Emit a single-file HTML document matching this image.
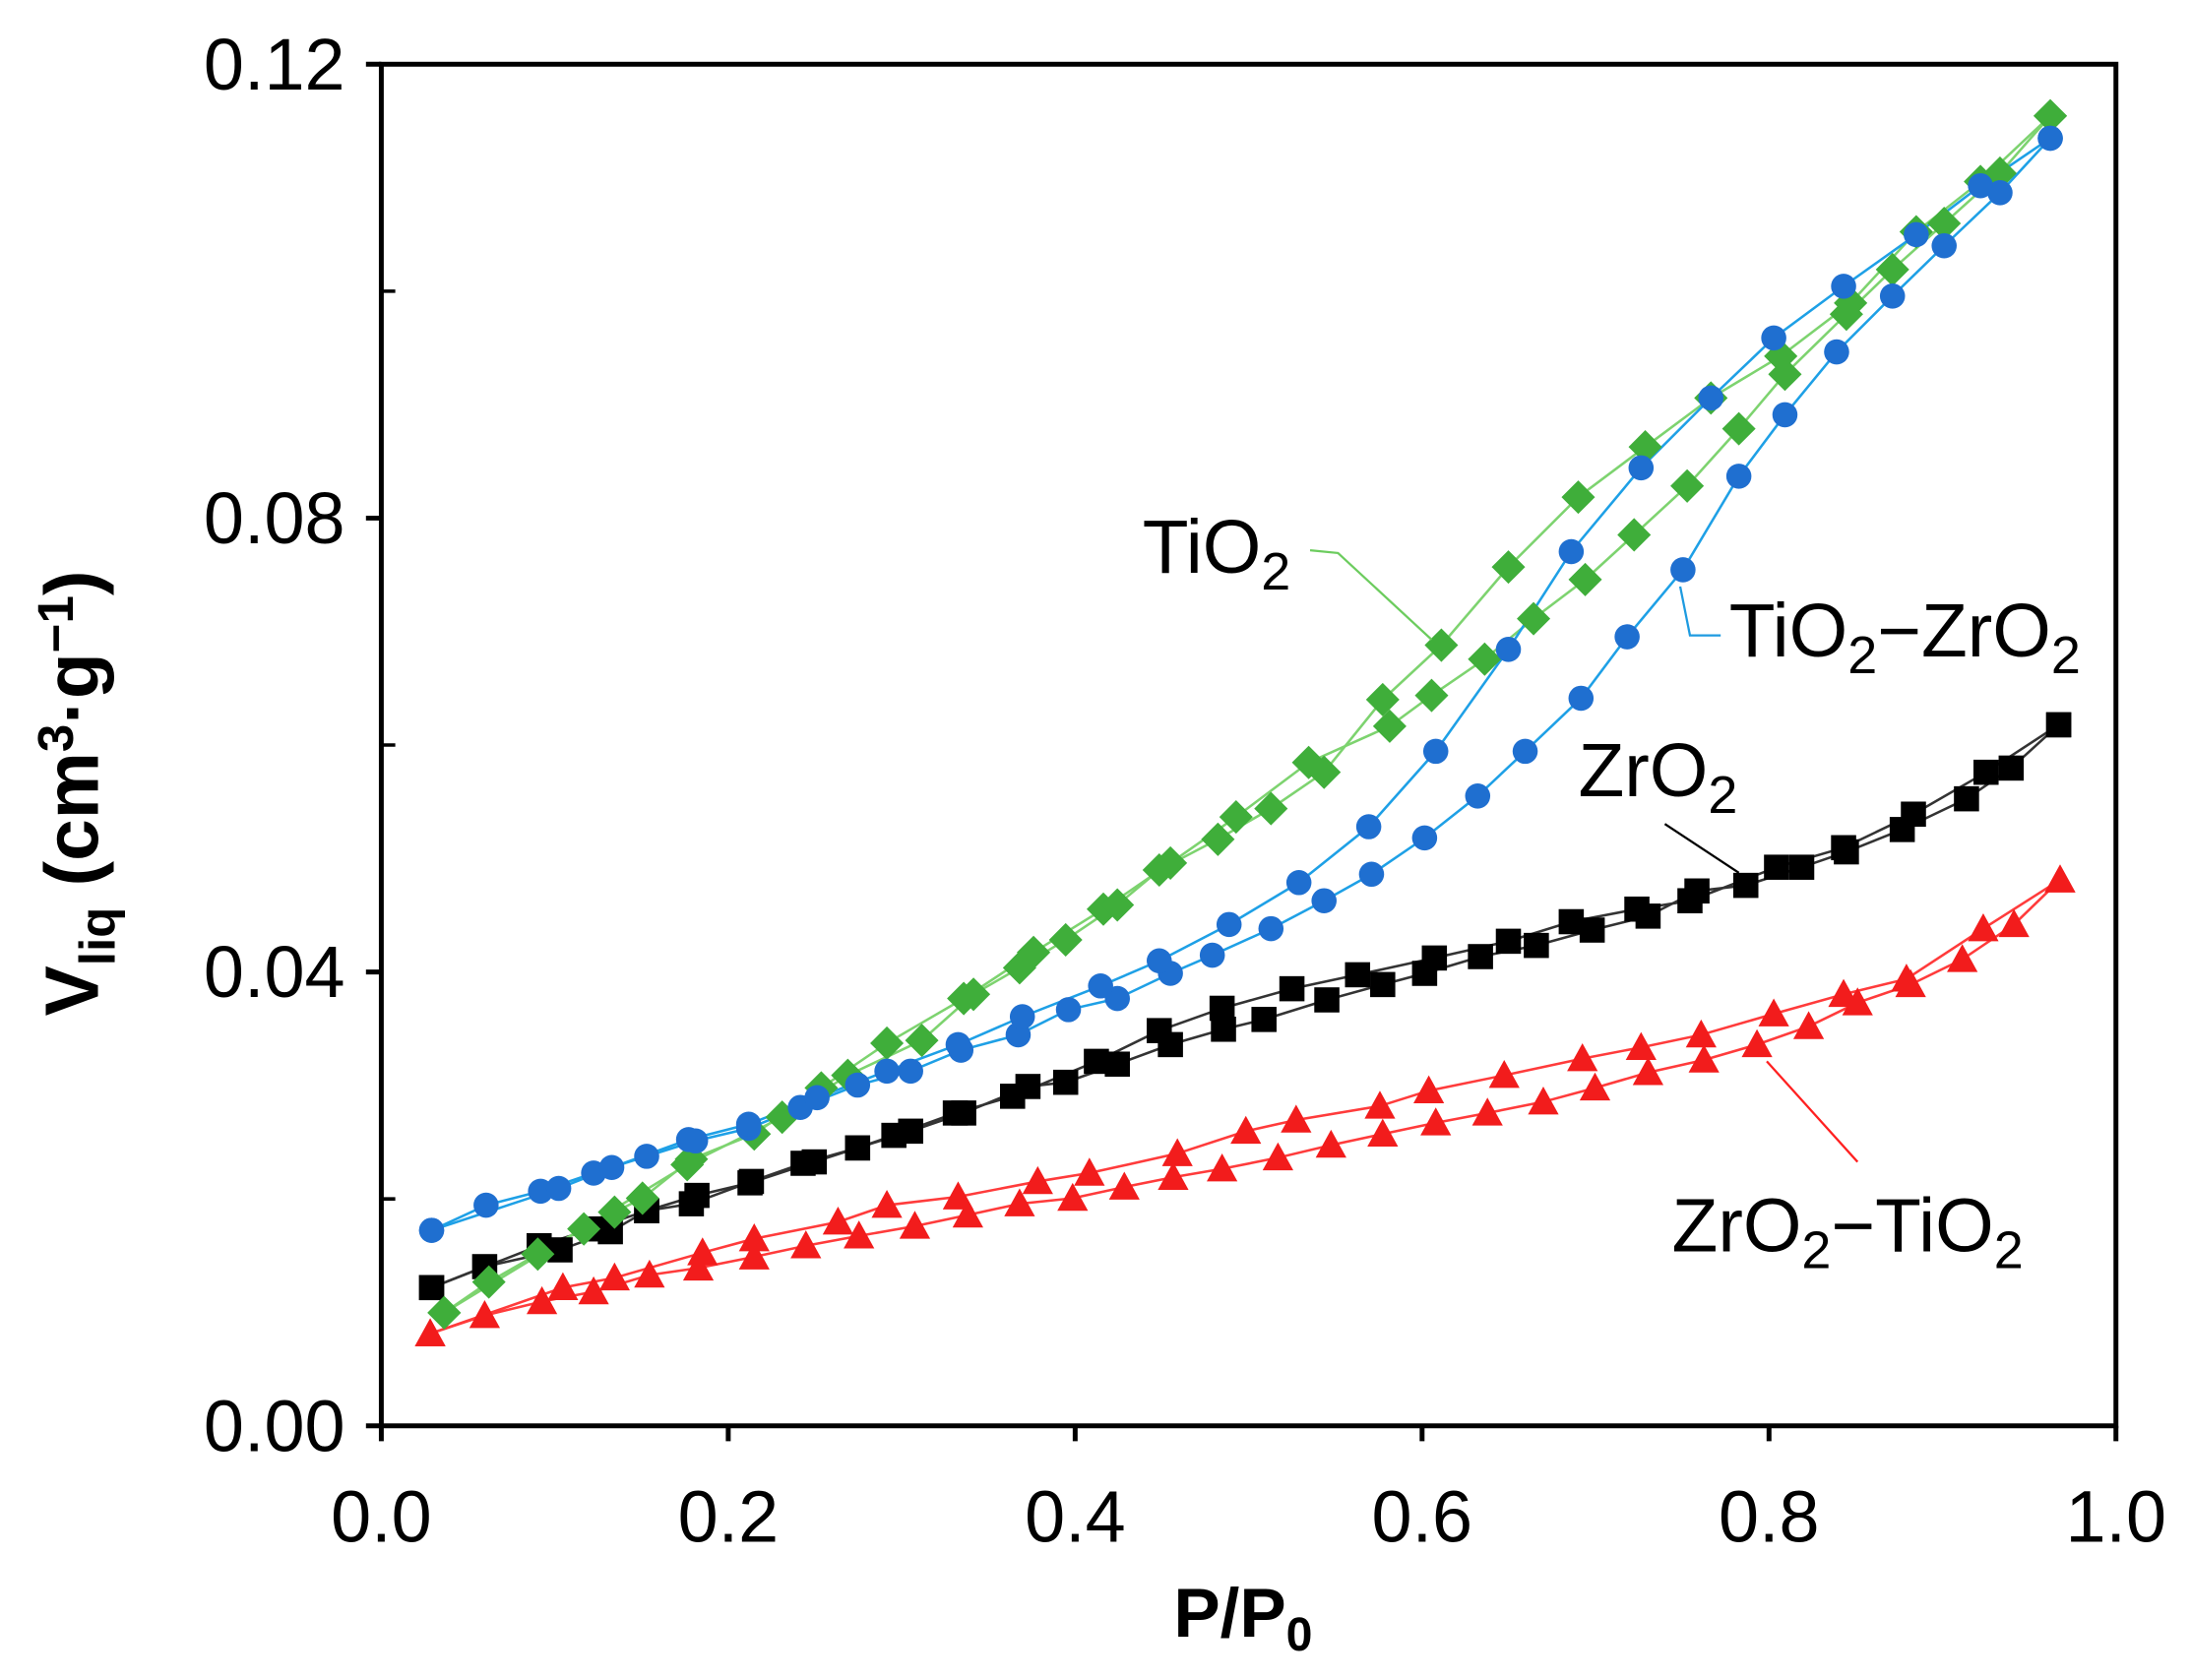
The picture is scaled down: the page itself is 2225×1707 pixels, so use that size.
<!DOCTYPE html>
<html><head><meta charset="utf-8"><style>html,body{margin:0;padding:0;background:#fff}svg{display:block}</style></head>
<body>
<svg width="2225" height="1707" viewBox="0 0 1568 1203" xmlns="http://www.w3.org/2000/svg" font-family="Liberation Sans, Arial, sans-serif">
<rect width="1568" height="1203" fill="#fff"/>
<g id="plot"></g>
<g stroke="#000" stroke-width="3.5" fill="none">
<rect x="273" y="46" width="1242" height="975"/>
<path d="M262,1021H273M262,696H273M262,371H273M262,46H273"/>
<path d="M273,1021V1032M521.4,1021V1032M769.8,1021V1032M1018.2,1021V1032M1266.6,1021V1032M1515,1021V1032"/>
<path d="M273,858.5H283M273,533.5H283M273,208.5H283" stroke-width="2.5"/>
</g>
<g font-size="52" fill="#000" text-anchor="end">
<text x="247" y="1039">0.00</text><text x="247" y="714">0.04</text><text x="247" y="389">0.08</text><text x="247" y="64">0.12</text>
</g>
<g font-size="52" fill="#000" text-anchor="middle">
<text x="273" y="1104">0.0</text><text x="521.4" y="1104">0.2</text><text x="769.8" y="1104">0.4</text><text x="1018.2" y="1104">0.6</text><text x="1266.6" y="1104">0.8</text><text x="1515" y="1104">1.0</text>
</g>
<text x="890" y="1172" font-size="50" font-weight="bold" text-anchor="middle">P/P<tspan font-size="34" dy="10">0</tspan></text>
<text transform="translate(70,568) rotate(-90)" font-size="54" font-weight="bold" text-anchor="middle">V<tspan font-size="36" dy="12">liq</tspan><tspan dy="-12"> (cm</tspan><tspan font-size="36" dy="-18">3</tspan><tspan dy="18">·g</tspan><tspan font-size="36" dy="-18">−1</tspan><tspan dy="18">)</tspan></text>
<g font-size="54" fill="#000">
<text x="818" y="410">TiO<tspan font-size="38" dy="12">2</tspan></text>
<text x="1238" y="470">TiO<tspan font-size="38" dy="12">2</tspan><tspan dy="-12">−ZrO</tspan><tspan font-size="38" dy="12">2</tspan></text>
<text x="1130" y="570">ZrO<tspan font-size="38" dy="12">2</tspan></text>
<text x="1197" y="896">ZrO<tspan font-size="38" dy="12">2</tspan><tspan dy="-12">−TiO</tspan><tspan font-size="38" dy="12">2</tspan></text>
</g>
<g fill="none" stroke-width="1.6">
<path d="M938,394 L958,396 L1025,458" stroke="#6ccc5e"/>
<path d="M1232,455 L1210,455 L1203,420" stroke="#1e9be0"/>
<path d="M1192,590 L1245,625" stroke="#000"/>
<path d="M1330,832 L1265,760" stroke="#ff2020"/>
</g>
<script>
const NS="http://www.w3.org/2000/svg";
const g=document.getElementById('plot');
function P(s){return s.trim().split(/;\s*/).map(p=>p.split(',').map(Number));}
function line(pts,col){const e=document.createElementNS(NS,'polyline');e.setAttribute('points',pts.map(p=>p.join(',')).join(' '));e.setAttribute('fill','none');e.setAttribute('stroke',col);e.setAttribute('stroke-width','1.8');g.appendChild(e);}
function mk(pts,type,col){pts.forEach(([x,y])=>{let e;
 if(type=='c'){e=document.createElementNS(NS,'circle');e.setAttribute('cx',x);e.setAttribute('cy',y);e.setAttribute('r',9);}
 else if(type=='s'){e=document.createElementNS(NS,'rect');e.setAttribute('x',x-9);e.setAttribute('y',y-9);e.setAttribute('width',18);e.setAttribute('height',18);}
 else if(type=='t'){e=document.createElementNS(NS,'path');e.setAttribute('d',`M${x},${y-11}L${x+11},${y+9}L${x-11},${y+9}Z`);}
 else {e=document.createElementNS(NS,'path');e.setAttribute('d',`M${x},${y-12}L${x+12},${y}L${x},${y+12}L${x-12},${y}Z`);}
 e.setAttribute('fill',col);g.appendChild(e);});}
const series=[
 ['t','#f21c1c','#ff3b3b',
  '308,955;347,942;388,932;425,925;465,913;500,908;540,900;577,892;615,885;655,878;693,870;730,862;768,858;805,850;840,843;875,837;915,829;953,820;990,812;1028,804;1065,797;1105,789;1142,779;1180,768;1220,759;1258,748;1295,735;1330,718;1368,705;1405,687;1442,662;1475,630',
  '308,955;403,922;440,915;503,897;540,887;600,875;635,863;686,857;743,846;780,840;843,826;892,810;928,802;988,792;1023,781;1077,770;1133,758;1175,750;1218,741;1270,726;1320,712;1365,701;1420,665;1475,630'],
 ['s','#000','#333',
  '309,922;347,907;401,895;437,882;463,867;499,856;537,847;583,832;614,822;652,810;690,797;736,778;763,775;800,762;838,748;876,737;905,730;950,716;990,705;1020,697;1060,685;1100,677;1140,666;1180,656;1215,638;1250,634;1290,621;1322,610;1362,594;1408,572;1440,550;1474,519',
  '309,922;386,892;424,880;463,867;495,862;538,846;575,833;614,822;640,813;684,797;725,785;785,760;830,738;875,722;925,708;972,698;1027,686;1080,674;1125,660;1172,651;1210,645;1272,621;1320,607;1370,583;1422,553;1474,519'],
 ['d','#3fae3a','#7dd36f',
  '318,940;350,918;385,898;418,880;440,868;460,858;495,830;540,812;588,779;635,747;690,715;740,682;790,651;838,618;885,585;937,546;995,520;1025,498;1063,472;1098,443;1135,415;1170,383;1208,348;1245,307;1278,268;1322,225;1355,193;1392,160;1432,124;1468,83',
  '318,940;492,834;560,800;607,770;660,745;697,712;730,693;763,673;800,648;830,623;872,601;910,579;948,553;990,501;1032,462;1080,406;1130,356;1178,320;1225,285;1275,255;1325,217;1372,166;1418,130;1468,83'],
 ['c','#1f6fd0','#1ea0e6',
  '309,881;348,863;387,853;425,840;463,828;498,817;536,808;573,793;614,777;652,767;688,752;729,741;765,723;800,715;838,697;868,684;910,665;948,645;982,626;1020,600;1058,570;1092,538;1132,500;1165,456;1205,408;1245,341;1278,297;1315,252;1355,212;1392,176;1432,138;1468,99',
  '309,881;400,851;438,836;493,816;536,805;585,786;635,767;686,748;732,728;788,706;830,688;880,662;930,632;980,592;1028,538;1080,465;1125,395;1175,335;1225,285;1270,242;1320,205;1372,168;1418,133;1468,99']
];
series.forEach(([t,c,lc,a,b])=>{line(P(a),lc);line(P(b),lc);});
series.forEach(([t,c,lc,a,b])=>{mk(P(a),t,c);mk(P(b),t,c);});
</script>
</svg>
</body></html>
